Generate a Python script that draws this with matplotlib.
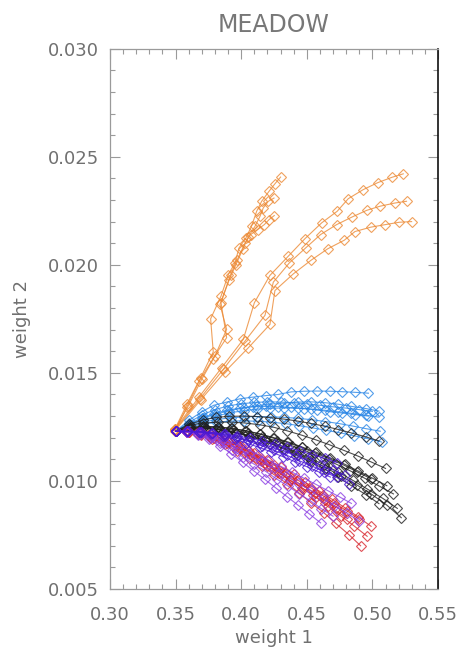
import matplotlib
matplotlib.use("Agg")
import matplotlib.pyplot as plt
from matplotlib.ticker import MultipleLocator, FormatStrFormatter

# ---------------- data ----------------
title = "MEADOW"
xlabel = "weight 1"
ylabel = "weight 2"
xticks = [0.30, 0.35, 0.40, 0.45, 0.50, 0.55]
yticks = [0.005, 0.010, 0.015, 0.020, 0.025, 0.030]

# orange: steep group + shallow group
orange_x = [
    [0.3495, 0.3589, 0.3691, 0.3787, 0.3767, 0.3846, 0.3902, 0.3953, 0.3983, 0.4036, 0.4080, 0.4118, 0.4156, 0.4212, 0.4257, 0.4300],
    [0.3495, 0.3597, 0.3699, 0.3800, 0.3889, 0.3838, 0.3909, 0.3960, 0.4011, 0.4054, 0.4105, 0.4143, 0.4168, 0.4207, 0.4250],
    [0.3495, 0.3584, 0.3681, 0.3782, 0.3889, 0.3846, 0.3919, 0.3970, 0.4029, 0.4072, 0.4125, 0.4176, 0.4212, 0.4252],
    [0.3495, 0.3681, 0.3851, 0.4016, 0.4100, 0.4219, 0.4359, 0.4486, 0.4613, 0.4732, 0.4816, 0.4930, 0.5040, 0.5149, 0.5235],
    [0.3495, 0.3686, 0.3864, 0.4029, 0.4181, 0.4245, 0.4367, 0.4491, 0.4605, 0.4727, 0.4844, 0.4956, 0.5057, 0.5172, 0.5260],
    [0.3495, 0.3691, 0.3876, 0.4054, 0.4219, 0.4257, 0.4397, 0.4532, 0.4659, 0.4786, 0.4867, 0.4986, 0.5098, 0.5205, 0.5299],
]
orange_y = [
    [0.01240, 0.01358, 0.01478, 0.01597, 0.01750, 0.01855, 0.01955, 0.02009, 0.02078, 0.02124, 0.02181, 0.02248, 0.02294, 0.02340, 0.02375, 0.02406],
    [0.01236, 0.01347, 0.01470, 0.01578, 0.01701, 0.01817, 0.01932, 0.02001, 0.02071, 0.02129, 0.02178, 0.02224, 0.02263, 0.02294, 0.02309],
    [0.01232, 0.01340, 0.01463, 0.01563, 0.01663, 0.01824, 0.01955, 0.02024, 0.02101, 0.02140, 0.02163, 0.02186, 0.02209, 0.02228],
    [0.01240, 0.01390, 0.01524, 0.01655, 0.01824, 0.01951, 0.02040, 0.02121, 0.02194, 0.02248, 0.02306, 0.02348, 0.02380, 0.02405, 0.02421],
    [0.01236, 0.01381, 0.01517, 0.01647, 0.01766, 0.01920, 0.02009, 0.02078, 0.02140, 0.02186, 0.02221, 0.02252, 0.02271, 0.02286, 0.02294],
    [0.01232, 0.01375, 0.01505, 0.01616, 0.01724, 0.01881, 0.01958, 0.02021, 0.02074, 0.02114, 0.02154, 0.02174, 0.02186, 0.02197, 0.02200],
]

blue_x = [
    [0.350, 0.360, 0.370, 0.379, 0.389, 0.399, 0.409, 0.419, 0.428, 0.438, 0.448, 0.458, 0.468, 0.477, 0.487, 0.497],
    [0.350, 0.360, 0.371, 0.381, 0.391, 0.402, 0.412, 0.422, 0.433, 0.443, 0.453, 0.464, 0.474, 0.484, 0.495, 0.505],
    [0.350, 0.360, 0.371, 0.381, 0.391, 0.402, 0.412, 0.422, 0.433, 0.443, 0.453, 0.464, 0.474, 0.484, 0.495, 0.505],
    [0.350, 0.360, 0.370, 0.379, 0.389, 0.399, 0.409, 0.419, 0.428, 0.438, 0.448, 0.458, 0.468, 0.477, 0.487, 0.497],
    [0.350, 0.360, 0.371, 0.381, 0.392, 0.402, 0.412, 0.423, 0.433, 0.443, 0.454, 0.464, 0.475, 0.485, 0.495, 0.506],
    [0.350, 0.360, 0.371, 0.381, 0.392, 0.402, 0.413, 0.423, 0.434, 0.444, 0.455, 0.465, 0.476, 0.486, 0.497, 0.507],
    [0.350, 0.360, 0.370, 0.380, 0.390, 0.400, 0.410, 0.420, 0.430, 0.440, 0.450, 0.460, 0.470, 0.480, 0.490, 0.500],
]
blue_y = [
    [0.0123, 0.0128, 0.0132, 0.0135, 0.01365, 0.0138, 0.01388, 0.01395, 0.0140, 0.01412, 0.01415, 0.01416, 0.01415, 0.01413, 0.0141, 0.01406],
    [0.0123, 0.0126, 0.0129, 0.0131, 0.01325, 0.01338, 0.01348, 0.01356, 0.0136, 0.01365, 0.01366, 0.01362, 0.01355, 0.01345, 0.01335, 0.01323],
    [0.0123, 0.0126, 0.0128, 0.0130, 0.01315, 0.01325, 0.01332, 0.01336, 0.01338, 0.01336, 0.01333, 0.01327, 0.0132, 0.01313, 0.01304, 0.01295],
    [0.0123, 0.01265, 0.0129, 0.01312, 0.01327, 0.01337, 0.01343, 0.01345, 0.01344, 0.0134, 0.01335, 0.01328, 0.0132, 0.01314, 0.01307, 0.0130],
    [0.0123, 0.01255, 0.01272, 0.01284, 0.01292, 0.01296, 0.01298, 0.01297, 0.01294, 0.0129, 0.01283, 0.01275, 0.01265, 0.01254, 0.01242, 0.0123],
    [0.0123, 0.0125, 0.01263, 0.01272, 0.01277, 0.01278, 0.01276, 0.01272, 0.01265, 0.01256, 0.01245, 0.01234, 0.01222, 0.01209, 0.01195, 0.0118],
    [0.0123, 0.0127, 0.01305, 0.0133, 0.01347, 0.01357, 0.01363, 0.01366, 0.01365, 0.01362, 0.01357, 0.0135, 0.01343, 0.01337, 0.0133, 0.01322],
]

black_x = [
    [0.350, 0.360, 0.371, 0.381, 0.391, 0.402, 0.412, 0.422, 0.433, 0.443, 0.453, 0.464, 0.474, 0.484, 0.495, 0.505],
    [0.350, 0.361, 0.371, 0.382, 0.393, 0.403, 0.414, 0.425, 0.435, 0.446, 0.457, 0.467, 0.478, 0.489, 0.499, 0.510],
    [0.350, 0.361, 0.371, 0.382, 0.393, 0.404, 0.414, 0.425, 0.436, 0.446, 0.457, 0.468, 0.479, 0.489, 0.500, 0.511],
    [0.350, 0.361, 0.372, 0.383, 0.394, 0.405, 0.416, 0.427, 0.439, 0.450, 0.461, 0.472, 0.483, 0.494, 0.505, 0.516],
    [0.350, 0.361, 0.373, 0.384, 0.395, 0.406, 0.418, 0.429, 0.440, 0.451, 0.463, 0.474, 0.485, 0.496, 0.508, 0.519],
    [0.350, 0.361, 0.373, 0.384, 0.396, 0.407, 0.419, 0.430, 0.442, 0.453, 0.465, 0.476, 0.488, 0.499, 0.511, 0.522],
    [0.350, 0.361, 0.371, 0.382, 0.392, 0.403, 0.414, 0.424, 0.435, 0.446, 0.456, 0.467, 0.478, 0.488, 0.499],
    [0.350, 0.360, 0.371, 0.381, 0.391, 0.402, 0.412, 0.422, 0.433, 0.443, 0.453, 0.464, 0.474, 0.484, 0.495, 0.505],
]
black_y = [
    [0.0123, 0.01262, 0.01282, 0.01294, 0.01299, 0.0130, 0.01298, 0.01293, 0.01286, 0.01277, 0.01266, 0.01253, 0.01238, 0.01222, 0.01204, 0.01185],
    [0.0123, 0.01258, 0.01268, 0.01272, 0.01272, 0.01268, 0.0126, 0.01248, 0.01232, 0.01212, 0.0119, 0.01168, 0.01142, 0.01115, 0.01088, 0.01058],
    [0.0123, 0.01248, 0.01252, 0.0125, 0.01243, 0.01232, 0.01218, 0.0120, 0.0118, 0.01158, 0.01133, 0.01106, 0.01077, 0.01046, 0.01013, 0.00978],
    [0.0123, 0.01245, 0.01248, 0.01244, 0.01235, 0.01222, 0.01205, 0.01185, 0.01162, 0.01137, 0.01109, 0.01079, 0.01047, 0.01013, 0.00977, 0.0094],
    [0.0123, 0.01243, 0.01244, 0.01238, 0.01226, 0.0121, 0.0119, 0.01166, 0.01139, 0.01109, 0.01076, 0.01041, 0.01003, 0.00963, 0.00919, 0.00873],
    [0.0123, 0.01242, 0.01242, 0.01235, 0.01222, 0.01205, 0.01183, 0.01157, 0.01128, 0.01096, 0.0106, 0.01022, 0.00982, 0.0094, 0.00888, 0.0083],
    [0.0123, 0.01248, 0.01252, 0.0125, 0.01243, 0.01232, 0.01217, 0.01199, 0.01178, 0.01155, 0.0113, 0.01103, 0.01074, 0.01043, 0.0101],
    [0.0123, 0.01244, 0.01246, 0.0124, 0.01229, 0.01214, 0.01195, 0.01173, 0.01147, 0.01118, 0.01087, 0.01053, 0.01017, 0.00978, 0.00937, 0.00895],
]

# dark blue-violet group
violet_x = [
    [0.350, 0.359, 0.368, 0.378, 0.387, 0.396, 0.405, 0.414, 0.424, 0.433, 0.442, 0.451, 0.460, 0.470, 0.479],
    [0.350, 0.3595, 0.369, 0.378, 0.388, 0.397, 0.407, 0.416, 0.426, 0.435, 0.445, 0.454, 0.464, 0.473],
    [0.350, 0.359, 0.369, 0.378, 0.388, 0.397, 0.407, 0.416, 0.425, 0.435, 0.444, 0.454, 0.463, 0.473, 0.482],
    [0.350, 0.359, 0.368, 0.377, 0.386, 0.395, 0.404, 0.414, 0.423, 0.432, 0.441, 0.450, 0.459, 0.468],
]
violet_y = [
    [0.0123, 0.0123, 0.01228, 0.01223, 0.01215, 0.01204, 0.0119, 0.01174, 0.01156, 0.01137, 0.01117, 0.01096, 0.01074, 0.01051, 0.01027],
    [0.0123, 0.0123, 0.01228, 0.01224, 0.01217, 0.01208, 0.01197, 0.01184, 0.0117, 0.01155, 0.01139, 0.01122, 0.01104, 0.01085],
    [0.0123, 0.01229, 0.01226, 0.0122, 0.0121, 0.01197, 0.01181, 0.01162, 0.01141, 0.01118, 0.01094, 0.01069, 0.01043, 0.01016, 0.00988],
    [0.0123, 0.01229, 0.01226, 0.01219, 0.01208, 0.01193, 0.01175, 0.01155, 0.01134, 0.01112, 0.01089, 0.01066, 0.01042, 0.01018],
]

# light purple group
purple_x = [
    [0.350, 0.3585, 0.367, 0.3755, 0.384, 0.3925, 0.401, 0.4095, 0.418, 0.4265, 0.435, 0.4435, 0.452, 0.4605],
    [0.350, 0.359, 0.369, 0.378, 0.387, 0.397, 0.406, 0.415, 0.425, 0.434, 0.443, 0.453, 0.462, 0.471, 0.481, 0.490],
    [0.350, 0.359, 0.368, 0.377, 0.386, 0.395, 0.404, 0.413, 0.421, 0.430, 0.439, 0.448, 0.457, 0.466, 0.475, 0.484],
    [0.350, 0.359, 0.367, 0.376, 0.384, 0.393, 0.401, 0.410, 0.419, 0.427, 0.436, 0.444, 0.453, 0.461, 0.470],
]
purple_y = [
    [0.0123, 0.01226, 0.01214, 0.01192, 0.01162, 0.01126, 0.01087, 0.01047, 0.01007, 0.00967, 0.00927, 0.00887, 0.00847, 0.00806],
    [0.0123, 0.01227, 0.01218, 0.01202, 0.0118, 0.01153, 0.01123, 0.01091, 0.01058, 0.01024, 0.0099, 0.00956, 0.00921, 0.00886, 0.0085, 0.00813],
    [0.0123, 0.01228, 0.01222, 0.0121, 0.01193, 0.01172, 0.01148, 0.01122, 0.01095, 0.01068, 0.0104, 0.01012, 0.00984, 0.00955, 0.00926, 0.00896],
    [0.0123, 0.01227, 0.01217, 0.01199, 0.01174, 0.01144, 0.01111, 0.01077, 0.01043, 0.01009, 0.00975, 0.00941, 0.00907, 0.00872, 0.00837],
]

red_x = [
    [0.350, 0.360, 0.370, 0.380, 0.390, 0.400, 0.410, 0.420, 0.430, 0.440, 0.449, 0.459, 0.469, 0.479, 0.489, 0.499],
    [0.350, 0.360, 0.369, 0.379, 0.389, 0.399, 0.408, 0.418, 0.428, 0.437, 0.447, 0.457, 0.466, 0.476, 0.486, 0.496],
    [0.350, 0.359, 0.369, 0.378, 0.388, 0.397, 0.406, 0.416, 0.425, 0.435, 0.444, 0.453, 0.463, 0.472, 0.482, 0.491],
    [0.350, 0.359, 0.369, 0.378, 0.387, 0.397, 0.406, 0.415, 0.425, 0.434, 0.443, 0.453, 0.462, 0.471, 0.481, 0.490],
    [0.350, 0.359, 0.367, 0.376, 0.385, 0.394, 0.402, 0.411, 0.420, 0.429, 0.437, 0.446, 0.455, 0.464, 0.472, 0.481],
    [0.350, 0.358, 0.366, 0.375, 0.383, 0.391, 0.399, 0.407, 0.415, 0.423, 0.431, 0.439, 0.448, 0.456, 0.464, 0.472],
]
red_y = [
    [0.0123, 0.01228, 0.0122, 0.01206, 0.01186, 0.0116, 0.01131, 0.01099, 0.01065, 0.0103, 0.00993, 0.00955, 0.00916, 0.00876, 0.00834, 0.0079],
    [0.0123, 0.01226, 0.01216, 0.01199, 0.01176, 0.01148, 0.01116, 0.01081, 0.01044, 0.01005, 0.00965, 0.00924, 0.00882, 0.00838, 0.00792, 0.00744],
    [0.0123, 0.01225, 0.01213, 0.01194, 0.01169, 0.01139, 0.01105, 0.01068, 0.01029, 0.00988, 0.00945, 0.0090, 0.00853, 0.00804, 0.00752, 0.0070],
    [0.0123, 0.01228, 0.01221, 0.01208, 0.01189, 0.01165, 0.01137, 0.01106, 0.01073, 0.01039, 0.01004, 0.00969, 0.00933, 0.00897, 0.0086, 0.00822],
    [0.0123, 0.01227, 0.01219, 0.01205, 0.01185, 0.0116, 0.01132, 0.01102, 0.0107, 0.01037, 0.01003, 0.00969, 0.00934, 0.00899, 0.00863, 0.00826],
    [0.0123, 0.01229, 0.01224, 0.01214, 0.01199, 0.01179, 0.01155, 0.01128, 0.01099, 0.01069, 0.01038, 0.01007, 0.00975, 0.00943, 0.0091, 0.00877],
]

# ---------------- styling ----------------
plt.rcParams["font.family"] = ["DejaVu Sans"]
TEXT = "#707070"
AX = "#9a9a9a"

fig = plt.figure(figsize=(4.62, 6.48), dpi=100)
ax = fig.add_axes([110 / 462, 59 / 648, 328 / 462, 540.3 / 648])

groups = [
    (orange_x, orange_y, "#ec8a35"),
    (blue_x, blue_y, "#2a86e6"),
    (black_x, black_y, "#202020"),
    (red_x, red_y, "#d8262e"),
    (purple_x, purple_y, "#8c3fe3"),
    (violet_x, violet_y, "#4a18d4"),
]
for xs, ys, col in groups:
    for x, y in zip(xs, ys):
        ax.plot(x, y, color=col, lw=0.8, alpha=0.8, marker="D", ms=5.0,
                mfc="none", mec=col, mew=0.8)

ax.set_xlim(0.30, 0.55)
ax.set_ylim(0.005, 0.030)
ax.set_xticks(xticks)
ax.set_yticks(yticks)
ax.xaxis.set_minor_locator(MultipleLocator(0.01))
ax.yaxis.set_minor_locator(MultipleLocator(0.001))
ax.xaxis.set_major_formatter(FormatStrFormatter("%.2f"))
ax.yaxis.set_major_formatter(FormatStrFormatter("%.3f"))
ax.tick_params(which="both", direction="in", top=True, right=True,
               colors=AX, labelcolor=TEXT, labelsize=13, width=0.8)
ax.tick_params(which="major", length=7)
ax.tick_params(which="minor", length=3.5)
ax.tick_params(axis="x", pad=12)
ax.tick_params(axis="y", pad=8)
for s in ["left", "top", "bottom"]:
    ax.spines[s].set_color(AX)
    ax.spines[s].set_linewidth(0.9)
ax.spines["right"].set_color("#111111")
ax.spines["right"].set_linewidth(1.2)
for t in ax.yaxis.get_ticklines(minor=False) + ax.yaxis.get_ticklines(minor=True):
    pass

ax.set_xlabel(xlabel, color=TEXT, fontsize=13, labelpad=4)
ax.set_ylabel(ylabel, color=TEXT, fontsize=13, labelpad=12)
ax.set_title(title, color="#777777", fontsize=17, pad=12)

fig.savefig("out.png", dpi=100)
